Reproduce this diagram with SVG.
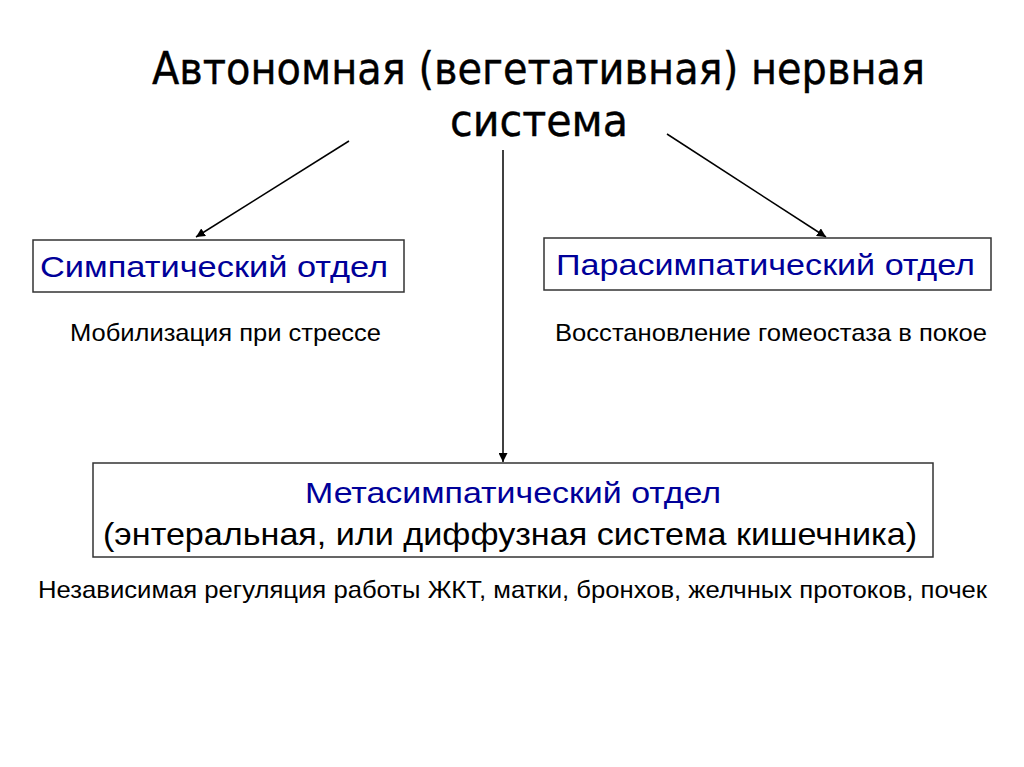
<svg xmlns="http://www.w3.org/2000/svg" width="1024" height="767" viewBox="0 0 1024 767">
<defs>
<style>
.title{font-family:"DejaVu Sans","Liberation Sans",sans-serif;font-size:44px;fill:#000;stroke:#000;stroke-width:0.4}
.node{fill:#fff;stroke:#333;stroke-width:1.5}
.head{font-family:"Liberation Sans",Arial,sans-serif;font-size:30px;fill:#000099}
.sub{font-family:"Liberation Sans",Arial,sans-serif;font-size:32px;fill:#000}
.note{font-family:"Liberation Sans",Arial,sans-serif;font-size:24px;fill:#000}
.conn{stroke:#000;stroke-width:1.5;fill:none;marker-end:url(#arr)}
</style>
<marker id="arr" viewBox="0 0 10 10" refX="10" refY="5" markerWidth="9" markerHeight="9" markerUnits="userSpaceOnUse" orient="auto">
<path d="M0,0 L10,5 L0,10 z" fill="#000"/>
</marker>
</defs>
<rect width="1024" height="767" fill="#fff"/>
<g id="title">
<text class="title" x="152" y="84" textLength="773" lengthAdjust="spacingAndGlyphs">Автономная (вегетативная) нервная</text>
<text class="title" x="450" y="136" textLength="178" lengthAdjust="spacingAndGlyphs">система</text>
</g>
<g id="connectors">
<line class="conn" x1="349" y1="141" x2="196" y2="237"/>
<line class="conn" x1="503" y1="150" x2="503" y2="462"/>
<line class="conn" x1="667" y1="134" x2="826" y2="237"/>
</g>
<g id="sympathetic">
<rect class="node" x="33" y="240" width="371" height="52"/>
<text class="head" x="40" y="277" textLength="348" lengthAdjust="spacingAndGlyphs">Симпатический отдел</text>
<text class="note" x="70" y="341" textLength="311" lengthAdjust="spacingAndGlyphs">Мобилизация при стрессе</text>
</g>
<g id="parasympathetic">
<rect class="node" x="544" y="238" width="447" height="52"/>
<text class="head" x="556" y="275" textLength="419" lengthAdjust="spacingAndGlyphs">Парасимпатический отдел</text>
<text class="note" x="555" y="341" textLength="432" lengthAdjust="spacingAndGlyphs">Восстановление гомеостаза в покое</text>
</g>
<g id="metasympathetic">
<rect class="node" x="93" y="463" width="840" height="94"/>
<text class="head" x="305" y="503" textLength="416" lengthAdjust="spacingAndGlyphs">Метасимпатический отдел</text>
<text class="sub" x="103" y="545" textLength="814" lengthAdjust="spacingAndGlyphs">(энтеральная, или диффузная система кишечника)</text>
<text class="note" x="38" y="598" textLength="949" lengthAdjust="spacingAndGlyphs">Независимая регуляция работы ЖКТ, матки, бронхов, желчных протоков, почек</text>
</g>
</svg>
